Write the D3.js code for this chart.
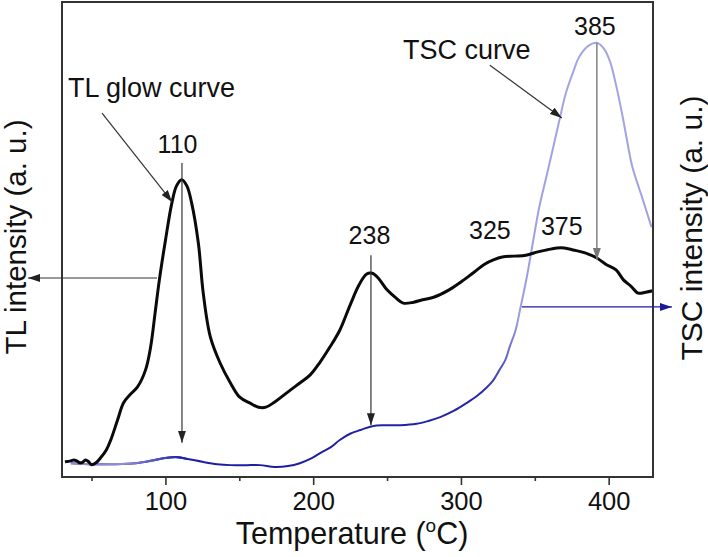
<!DOCTYPE html>
<html><head><meta charset="utf-8">
<script src="https://cdn.jsdelivr.net/npm/d3@7"></script>
<style>body{margin:0;background:#fff} svg{display:block} text{font-family:"Liberation Sans",Arial,sans-serif;fill:#111}</style>
</head><body><svg id="c" width="708" height="557"></svg>
<script>
// ---- data (temperature in °C, intensities in arbitrary units) ----
const tlTemp = [32,36,38,40,42,44,46,48,50,53,56,60,63,67.6,71.6,76,81,86.5,90,93,95.9,99.7,104.3,107.5,111,114.5,117.8,122.3,125.6,130.4,137,144,150.3,157,163,168,174,184.5,191,198,204.7,211,218,225,231,236,240,244,250,256,261,268,274,282,292,302,308,316,322,328,336,344,352,358,365,370,376,384,392,398,405,410,415,420,425,430];
const tlIntensity = [3.2,3.4,3.6,3.4,3.0,3.1,3.6,3.2,2.6,3.0,4.0,5.7,7.8,12.0,15.6,17.3,18.9,22.5,27.4,34.5,41.5,49.2,57.6,61.3,62.6,61.3,57.6,49.2,38.7,29.5,24.0,19.8,16.8,15.6,14.7,14.7,15.8,18.3,19.8,21.5,24.2,27.2,30.9,36.2,40.4,42.7,42.9,41.9,39.4,37.7,36.6,36.8,37.3,37.9,39.4,41.5,42.9,44.8,45.7,46.3,46.5,46.7,47.4,47.8,48.2,48.2,47.8,47.2,46.1,44.8,43.6,41.5,40.2,38.7,38.9,39.2];
const tscTemp = [36,50,65,80,90,100,107,115,125,135,144,155,164,174,183,191,198,205,212,218,225,232,240,248,259,270,278,286,295,304,311,317.6,322,326,330,333,337,340,344.6,349,353,358,362,367,371,376,380,386,392,397,401,405,409.5,413,416,423,429];
const tscIntensity = [2.9,2.7,2.7,2.9,3.4,4.0,4.2,3.8,3.2,2.7,2.5,2.5,2.5,2.1,2.3,2.9,3.8,5.1,6.3,7.8,9.1,9.9,10.7,10.9,10.9,11.2,11.8,12.6,13.9,15.6,17.1,18.9,20.4,22.5,24.6,27.4,30.9,35.2,42.1,49.9,56.8,63.4,68.8,75.6,80.8,85.3,88.4,90.7,91.4,90.1,87.4,82.5,75.8,69.9,65.3,58.5,52.6];
const majorTicks = [100,200,300,400];
const minorTicks = [50,150,250,350];
const peakLabels = ["110","238","325","375","385"];
const curveLabels = ["TL glow curve","TSC curve"];
const axisTitles = ["TL intensity (a. u.)","TSC intensity (a. u.)"];

const svg = d3.select("#c");
const x = d3.scaleLinear().domain([30,430]).range([62,653]);
const y = d3.scaleLinear().domain([0,100]).range([477,2]);

// markers
const defs = svg.append("defs");
function marker(id,color){
  defs.append("marker").attr("id",id).attr("markerUnits","userSpaceOnUse")
    .attr("markerWidth",13).attr("markerHeight",8).attr("refX",12).attr("refY",4)
    .attr("orient","auto").append("path").attr("d","M0,0 L12,4 L0,8 Z").attr("fill",color);
}
marker("ak","#222"); marker("ag","#777"); marker("ab","#1a1aa0");
const grad = defs.append("linearGradient").attr("id","tscg").attr("gradientUnits","userSpaceOnUse")
  .attr("x1",0).attr("x2",0).attr("y1",y(0)).attr("y2",y(100));
grad.append("stop").attr("offset",0).attr("stop-color","#1c1ca2");
grad.append("stop").attr("offset",0.17).attr("stop-color","#2626a8");
grad.append("stop").attr("offset",0.33).attr("stop-color","#9c9ce0");
grad.append("stop").attr("offset",1).attr("stop-color","#a6a6e6");
const gradL = defs.append("linearGradient").attr("id","tscl").attr("gradientUnits","userSpaceOnUse")
  .attr("x1",x(30)).attr("x2",x(110)).attr("y1",0).attr("y2",0);
gradL.append("stop").attr("offset",0).attr("stop-color","#8c8cd8");
gradL.append("stop").attr("offset",0.55).attr("stop-color","#8c8cd8");
gradL.append("stop").attr("offset",1).attr("stop-color","#2424a6");

// axis
const xAxis = svg.append("g").attr("transform",`translate(0,${y(0)})`)
  .call(d3.axisBottom(x).tickValues(majorTicks).tickSize(8).tickPadding(7).tickFormat(d3.format("d")));
xAxis.select(".domain").remove();
xAxis.selectAll("line").attr("stroke","#333").attr("stroke-width",1.6);
xAxis.selectAll("text").attr("font-size",25.5).attr("fill","#111").style("font-family",'"Liberation Sans",Arial,sans-serif');
const xMinor = svg.append("g").attr("transform",`translate(0,${y(0)})`)
  .call(d3.axisBottom(x).tickValues(minorTicks).tickSize(4).tickFormat(""));
xMinor.select(".domain").remove();
xMinor.selectAll("line").attr("stroke","#333").attr("stroke-width",1.6);

// curves
const line = d3.line().x(d=>x(d[0])).y(d=>y(d[1])).curve(d3.curveCatmullRom.alpha(0.5));
const tscPts = d3.zip(tscTemp,tscIntensity);
svg.append("path").datum(tscPts).attr("d",line)
  .attr("fill","none").attr("stroke","url(#tscg)").attr("stroke-width",2);
svg.append("path").datum(tscPts.filter(d=>d[0]<=115)).attr("d",line)
  .attr("fill","none").attr("stroke","url(#tscl)").attr("stroke-width",2.2);
svg.append("path").datum(d3.zip(tlTemp,tlIntensity)).attr("d",line)
  .attr("fill","none").attr("stroke","#0a0a0a").attr("stroke-width",3).attr("stroke-linejoin","round");

// frame
svg.append("rect").attr("x",x(30)).attr("y",y(100)).attr("width",x(430)-x(30)).attr("height",y(0)-y(100))
  .attr("fill","none").attr("stroke","#333").attr("stroke-width",2);

// annotation arrows (data coordinates)
function arrow(t1,v1,t2,v2,m,color,w){
  svg.append("line").attr("x1",x(t1)).attr("y1",y(v1)).attr("x2",x(t2)).attr("y2",y(v2))
    .attr("stroke",color).attr("stroke-width",w||1.2).attr("marker-end",`url(#${m})`);
}
arrow(111.2,66.1,111.2,7.2,"ak","#333");
arrow(239.1,46.7,239.1,10.9,"ak","#333");
arrow(392,91.4,392,45.7,"ag","#888",1.6);
arrow(57.1,76.6,104.5,57.9,"ak","#333");
arrow(319.6,86.7,368.3,75.6,"ak","#333");
arrow(94.3,41.9,7.0,41.9,"ak","#333");
arrow(341.3,35.8,442.8,35.8,"ab","#1a1aa0");

// labels
const peakPos = [[108.2,68.2],[238.1,49.05],[319.6,50.1],[368.3,50.9],[390.7,93.05]];
peakLabels.forEach((s,i)=>{
  svg.append("text").attr("x",x(peakPos[i][0])).attr("y",y(peakPos[i][1]))
    .attr("text-anchor","middle").attr("font-size",25).text(s);
});
svg.append("text").attr("x",x(34.1)).attr("y",y(80)).attr("font-size",27).text(curveLabels[0]);
svg.append("text").attr("x",x(260.8)).attr("y",y(88)).attr("font-size",27).text(curveLabels[1]);

// axis titles
const xt = svg.append("text").attr("x",352).attr("y",544).attr("text-anchor","middle").attr("font-size",30.5);
xt.append("tspan").text("Temperature (");
xt.append("tspan").attr("font-size",19).attr("dy",-12).text("o");
xt.append("tspan").attr("dy",12).text("C)");
svg.append("text").attr("transform","translate(26,237) rotate(-90)").attr("text-anchor","middle")
  .attr("font-size",29.5).text(axisTitles[0]);
svg.append("text").attr("transform","translate(702,228) rotate(-90)").attr("text-anchor","middle")
  .attr("font-size",30).text(axisTitles[1]);
</script></body></html>
